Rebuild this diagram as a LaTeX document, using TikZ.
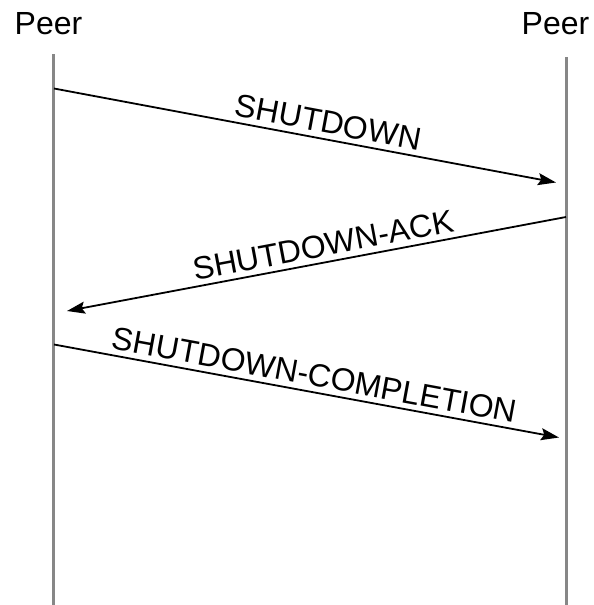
\documentclass[tikz,border=0pt]{standalone}
\usepackage{fontspec}
\setmainfont{Liberation Sans}
\usetikzlibrary{arrows.meta}
\begin{document}
\begin{tikzpicture}[x=1pt,y=-1pt,
  lifeline/.style={draw=black!47,line width=3.2pt},
  msg/.style={draw=black,line width=1.8pt,-{Stealth[length=18pt,width=12pt,inset=3pt]}},
  lbl/.style={font=\fontsize{32}{32}\selectfont,sloped,above,inner sep=5pt},
  peerlbl/.style={font=\fontsize{32}{32}\selectfont,anchor=base,inner sep=0pt}]
\useasboundingbox (0,0) rectangle (594,605);
\node[peerlbl] (peerL) at (48.5,34) {Peer};
\node[peerlbl] (peerR) at (555.5,34) {Peer};
\coordinate (Ltop) at (53.5,54);
\coordinate (Lbot) at (53.5,605);
\coordinate (Rtop) at (566.5,57);
\coordinate (Rbot) at (566.5,605);
\draw[lifeline] (Ltop) -- (Lbot);
\draw[lifeline] (Rtop) -- (Rbot);
\coordinate (m1s) at (54,88.5);
\coordinate (m1e) at (556,182.5);
\coordinate (m2s) at (566,217);
\coordinate (m2e) at (67,311);
\coordinate (m3s) at (54,344.5);
\coordinate (m3e) at (559,437.5);
\draw[msg] (m1s) -- node[lbl,pos=0.54] {SHUTDOWN} (m1e);
\draw[msg] (m2s) -- node[lbl,pos=0.48] {SHUTDOWN-ACK} (m2e);
\draw[msg] (m3s) -- node[lbl,pos=0.51] {SHUTDOWN-COMPLETION} (m3e);
\end{tikzpicture}
\end{document}
